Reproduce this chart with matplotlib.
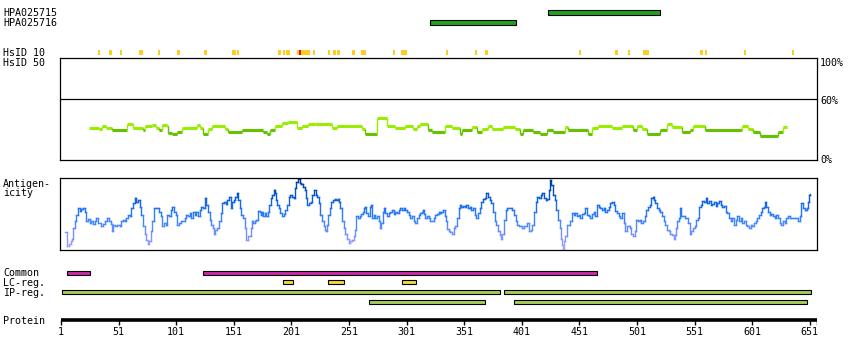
import numpy as np
import matplotlib
matplotlib.use("Agg")
import matplotlib.pyplot as plt
from matplotlib.collections import LineCollection
from matplotlib.colors import LinearSegmentedColormap

plt.rcParams['font.family'] = ['DejaVu Sans Mono']
FS = 7.2

# ---- data -------------------------------------------------------------
protein_len = 657
tick_res = [1, 51, 101, 151, 201, 251, 301, 351, 401, 451, 501, 551, 601, 651]

ab_names = ["HPA025715", "HPA025716"]
ab_start = [423.7, 321.3]
ab_end = [520.9, 396.0]

hsid_start = [32.9, 42.7, 52.2, 68.7, 84.9, 101.7, 125.1, 149.4, 153.5, 189.6, 193.7,
              196.3, 205.9, 219.8, 232.8, 237.1, 240.9, 253.6, 261.4, 289.5, 296.1,
              334.9, 360.4, 369.1, 450.7, 481.9, 492.9, 506.2, 555.7, 560.0, 593.6, 635.3]
hsid_end = [34.6, 45.0, 53.7, 72.2, 86.7, 104.3, 127.7, 152.6, 155.5, 192.0, 195.7,
            199.8, 217.4, 221.5, 234.5, 239.5, 243.2, 256.0, 265.5, 291.2, 301.1,
            336.7, 362.2, 371.7, 452.4, 484.5, 494.6, 511.4, 558.3, 561.8, 595.4, 637.0]
hsid_red_start = [207.6]
hsid_red_end = [209.3]

# identity (%), step segments: start residue and value
ident_start = [25.6, 34.3, 36.3, 40.1, 45.0, 58.6, 63.2, 71.9, 73.9, 79.7, 83.5, 86.4,
               88.4, 92.7, 94.2, 97.1, 101.4, 105.8, 118.8, 121.7, 124.6, 128.9, 131.8,
               143.4, 146.3, 157.9, 176.7, 179.6, 182.5, 186.8, 192.6, 198.4, 205.6,
               209.9, 215.8, 221.5, 236.0, 240.3, 262.0, 264.9, 275.1, 283.8, 291.0,
               299.7, 306.9, 309.8, 312.7, 319.9, 322.8, 334.3, 340.1, 347.4, 348.8,
               357.5, 361.8, 366.2, 372.0, 374.9, 385.0, 395.1, 399.5, 402.3, 411.0,
               416.8, 422.6, 428.4, 438.5, 441.4, 458.8, 461.7, 467.5, 479.0, 487.7,
               497.8, 500.7, 505.1, 509.4, 521.0, 526.8, 531.1, 539.8, 547.0, 549.9,
               560.1, 591.9, 597.7, 602.0, 607.8, 623.7, 628.1]
ident_val = [31.7, 30.7, 33.7, 32.0, 29.4, 35.3, 32.0, 29.4, 33.3, 35.0, 32.0, 29.4,
             34.6, 34.0, 26.5, 25.5, 27.5, 31.7, 35.0, 31.4, 25.5, 30.7, 33.7,
             30.7, 27.5, 29.4, 27.5, 26.1, 29.7, 33.3, 36.3, 37.3, 32.0,
             34.0, 35.3, 35.3, 32.0, 33.7, 30.7, 25.5, 41.8, 33.3, 31.4,
             33.3, 30.7, 34.0, 35.6, 29.7, 27.5, 33.7, 32.0, 26.1, 29.7,
             32.4, 28.1, 30.7, 33.7, 30.7, 32.4, 30.7, 26.1, 29.7, 28.1,
             26.1, 29.4, 28.1, 33.0, 29.7, 26.1, 32.0, 34.0, 31.4, 33.7,
             29.7, 34.0, 30.7, 25.8, 29.7, 35.6, 32.7, 28.1, 29.7, 33.3,
             29.7, 33.7, 30.7, 28.1, 23.9, 27.5, 32.7]
ident_end = 631.0

# antigenicity (relative score 0-100)
ag_res = [4.8, 6.2, 7.7, 9.4, 10.6, 11.4, 12.9, 14.3, 15.8, 17.2, 18.7, 20.1, 21.6, 23.0,
          24.4, 25.9, 27.3, 28.8, 30.2, 31.7, 33.1, 35.4, 37.5, 38.9, 40.9, 42.4, 44.1,
          45.6, 46.4, 48.2, 49.9, 51.9, 53.4, 54.8, 56.3, 57.7, 59.2, 60.6, 62.1, 63.5,
          65.0, 66.4, 67.9, 69.3, 70.8, 72.2, 73.6, 75.1, 76.5, 77.4, 78.9, 80.3, 81.7,
          83.2, 84.6, 86.1, 87.5, 89.0, 90.4, 91.9, 93.3, 94.8, 96.2, 97.7, 99.1, 100.6,
          102.0, 103.5, 104.9, 106.9, 108.4, 109.8, 111.3, 112.7, 114.2, 115.6, 117.1,
          118.5, 119.9, 121.4, 122.8, 124.3, 125.7, 127.2, 128.6, 130.1, 131.5, 133.0,
          133.8, 135.0, 136.7, 138.2, 139.6, 141.1, 142.5, 144.0, 145.4, 146.9, 148.3,
          149.5, 150.9, 152.4, 153.8, 154.7, 156.1, 157.6, 159.0, 160.5, 161.9, 163.4,
          164.8,
          165.6, 166.8, 167.7, 169.1, 170.6, 172.0, 173.5, 174.3, 175.5, 176.4, 177.8,
          179.2, 180.7, 181.6, 183.0, 184.5, 185.9, 187.1, 187.9, 188.8, 190.0, 191.4,
          192.9, 194.3, 195.7, 197.2, 198.6, 200.1, 201.5, 203.0, 204.4, 205.3, 206.7,
          208.2, 209.6, 211.1, 212.5, 213.4, 214.8, 216.3, 217.7, 219.2, 220.6, 222.1,
          223.5, 225.0, 226.1, 227.6, 229.0, 229.9, 230.8, 231.6, 232.8, 234.2, 235.7,
          237.1, 238.6, 240.0, 241.5, 242.3, 243.5, 244.9, 246.4, 247.8, 249.3, 250.7,
          252.2, 253.6, 255.1, 256.5, 257.4, 258.8, 260.3, 261.7, 263.2, 264.0, 265.2,
          266.1, 267.5, 269.0, 269.8, 271.0, 272.4, 273.9, 275.3, 276.8, 277.9, 279.1,
          280.5, 281.4, 282.6, 284.0, 285.5, 286.9, 288.4, 289.8, 291.2, 292.7, 294.1,
          295.6, 297.0, 298.5, 299.9, 301.4, 302.8, 304.3, 305.7, 307.2, 308.6, 310.1,
          311.5, 312.9, 314.4, 315.3, 316.1, 317.3, 318.7, 320.2, 321.6, 323.1, 324.5,
          326.0, 327.4, 328.9, 329.7,
          331.2, 332.6, 334.1, 335.5, 336.4, 337.5, 339.0, 340.4, 341.9, 343.3,
          344.8, 346.2, 347.1, 348.5, 350.0, 351.4, 352.9, 354.3, 355.8, 357.2,
          358.6, 360.1, 361.5, 363.0, 364.4, 365.9, 367.3, 368.8, 370.2, 371.7,
          373.1, 374.6, 376.0, 377.5, 378.9, 380.4, 381.8, 383.2, 384.1, 385.6,
          387.0, 388.5, 389.9, 391.4, 392.8, 394.2, 395.7, 397.1, 398.6, 400.0,
          401.5, 402.9, 404.4, 405.8, 407.3, 408.7, 410.2, 411.6, 413.1, 414.5,
          416.0, 417.4, 418.8, 420.3, 421.7, 423.2, 424.6, 425.5, 426.7, 428.1,
          429.6, 431.0, 432.4, 433.9, 435.3, 436.2, 436.8, 437.6, 438.8, 440.3,
          441.7, 443.2, 444.6, 446.0, 447.5, 448.9, 450.4, 451.8, 453.3, 454.7,
          456.2, 457.6, 459.1, 460.5, 462.0, 463.4, 464.9, 466.3, 467.8, 469.2,
          470.6, 472.1, 473.5, 475.0, 476.4, 477.9, 479.3, 480.8, 482.2, 483.7,
          485.1, 486.6, 488.0, 489.5, 490.9, 492.4, 493.8, 494.7,
          496.1, 497.5, 499.0, 500.4, 501.9, 503.3, 504.8, 506.2, 507.7, 509.1,
          510.6, 512.0, 513.5, 514.9, 515.8, 516.9, 518.4, 519.8, 521.3, 522.7,
          524.2, 525.6, 527.1, 528.5, 529.9, 531.4, 532.8, 533.7, 535.2, 536.0,
          537.2, 538.6, 539.5, 540.9, 542.4, 543.8, 545.3, 546.7, 548.2, 549.6,
          551.1, 552.5, 554.0, 554.8, 556.3, 557.7, 559.2, 560.6, 562.1, 563.5,
          565.0, 566.4, 567.9, 569.3, 570.8, 572.2, 573.6, 575.1, 576.5, 578.0,
          579.4, 580.9, 582.3, 583.8, 585.2, 586.7, 588.1, 589.6, 591.0, 592.5,
          593.9, 595.4, 596.8, 598.2, 599.7, 601.1, 602.6, 604.0, 605.5, 606.9,
          608.4, 609.8, 611.3, 612.4, 613.3, 614.7, 616.2, 617.6, 619.1, 620.5,
          622.0, 623.4, 624.9, 626.3, 627.8, 629.2, 630.7, 632.1, 633.6, 635.0,
          636.4, 637.9, 639.3, 640.8, 642.2, 643.7, 645.1, 646.6, 648.0, 648.9,
          649.8, 650.6, 650.9]
ag_val = [25, 6, 9, 12, 16, 30, 40, 49, 58, 54, 57, 58, 53, 40, 43, 37, 40, 36, 40, 45,
          37, 34, 36, 40, 44, 40, 36, 26, 35, 33, 35, 33, 40, 42, 40, 45, 49, 47, 58, 65,
          73, 67, 70, 60, 49, 33, 23, 14, 8, 12, 26, 40, 58, 58, 59, 53, 47, 33, 37, 35,
          49, 47, 56, 60, 53, 49, 35, 37, 40, 40, 44, 49, 47, 51, 44, 53, 49, 53, 48, 56,
          60, 58, 72, 63, 53, 42, 35, 30, 23, 28, 30, 40, 51, 65, 67, 64, 70, 74, 58, 67,
          70, 74, 79, 70, 58, 49, 44, 30, 14, 19, 19,
          30, 40, 37, 40, 42, 54, 53, 49, 53, 47, 51, 47, 53, 63, 72, 77, 84, 79, 70, 63,
          58, 51, 47, 50, 56, 63, 74, 77, 74, 72, 86, 95, 99, 93, 92, 88, 84, 72, 63, 65,
          67, 77, 84, 77, 74, 65, 49, 40, 33, 28, 26, 35, 49, 58, 67, 70, 71, 70, 71, 67,
          58, 40, 30, 23, 16, 10, 12, 14, 19, 28, 47, 44, 47, 50, 53, 58, 60, 51, 47, 60,
          63, 44, 49, 44, 47, 40, 31, 37, 53, 59, 51, 47, 51, 53, 56, 50, 53, 51, 56, 58,
          56, 59, 56, 53, 49, 44, 47, 40, 37, 44, 49, 51, 53, 56, 50, 45, 47, 44, 40, 40,
          44, 49, 50, 53, 51,
          53, 56, 47, 40, 29, 27, 25, 22, 30, 33, 44, 58, 63, 60, 62, 60, 63, 58, 60, 56,
          58, 49, 44, 51, 58, 67, 71, 73, 79, 74, 70, 65, 53, 40, 35, 26, 21, 16, 23, 42,
          56, 59, 58, 58, 56, 49, 40, 35, 33, 33, 30, 34, 33, 37, 26, 28, 35, 53, 67, 74,
          72, 77, 79, 72, 70, 71, 84, 98, 91, 77, 70, 56, 42, 30, 16, 7, 1, 12, 19, 35,
          35, 40, 51, 49, 51, 47, 49, 45, 50, 51, 58, 49, 47, 44, 50, 53, 47, 63, 60, 58,
          56, 58, 53, 56, 60, 65, 67, 63, 54, 51, 47, 44, 51, 37, 26, 33, 33, 30,
          23, 19, 26, 42, 40, 42, 37, 40, 47, 56, 60, 63, 72, 74, 70, 65, 58, 56, 53, 47,
          40, 35, 28, 26, 23, 21, 16, 21, 30, 40, 44, 58, 47, 47, 44, 44, 37, 23, 26, 30,
          33, 42, 44, 60, 63, 68, 67, 72, 65, 68, 63, 64, 67, 62, 65, 68, 63, 60, 62, 53,
          51, 44, 40, 44, 35, 42, 47, 40, 44, 37, 40, 35, 33, 31, 35, 33, 37, 40, 44, 49,
          53, 58, 60, 67, 60, 53, 49, 50, 47, 44, 49, 44, 37, 35, 40, 37, 44, 47, 44, 44,
          45, 44, 44, 40, 47, 65, 58, 56, 56, 58, 67, 77, 78]

common_start = [5.9, 124.5]
common_end = [26.4, 466.0]
lc_start = [194.0, 233.0, 297.3]
lc_end = [202.1, 246.4, 308.9]
ip1_start = [2.1, 385.8]
ip1_end = [381.8, 651.8]
ip2_start = [268.6, 394.5]
ip2_end = [368.8, 648.3]

# ---- layout -------------------------------------------------------------
W, H = 850, 360
X0, X1 = 60, 817
RES_LEFT, RES_RIGHT = 0.13, 657.3

fig = plt.figure(figsize=(W / 100, H / 100), dpi=100)


def px_axes(left, top, right, bottom):
    return fig.add_axes([left / W, 1 - bottom / H, (right - left) / W, (bottom - top) / H])


def label(x, y, s, **kw):
    fig.text(x / W, 1 - y / H, s, fontsize=FS, va="baseline", **kw)


# tracks (antibodies, HsID, features, protein axis)
track = px_axes(X0, 0, X1, H)
track.set_xlim(RES_LEFT, RES_RIGHT)
track.set_ylim(H, 0)
track.axis("off")

ab_y = [12.5, 22.5]
track.barh(ab_y, np.subtract(ab_end, ab_start), left=ab_start, height=4.4,
           color="#1fa31f", edgecolor="black", linewidth=0.8)

track.barh(52.5, np.subtract(hsid_end, hsid_start), left=hsid_start, height=5,
           color="#ffcc22", linewidth=0)
track.barh(52.5, np.subtract(hsid_red_end, hsid_red_start), left=hsid_red_start,
           height=5, color="#ee1100", linewidth=0)

bar_kw = dict(height=4.2, edgecolor="black", linewidth=0.8)
track.barh(272.7, np.subtract(common_end, common_start), left=common_start,
           color="#cc2aa8", **bar_kw)
track.barh(282.4, np.subtract(lc_end, lc_start), left=lc_start, color="#f0dc3c", **bar_kw)
track.barh(292.4, np.subtract(ip1_end, ip1_start), left=ip1_start, color="#a8cc5a", **bar_kw)
track.barh(302.4, np.subtract(ip2_end, ip2_start), left=ip2_start, color="#a8cc5a", **bar_kw)

# protein ruler
track.plot([1, protein_len], [320, 320], color="black", lw=2.6, solid_capstyle="butt")
track.vlines(tick_res + [protein_len], 320, 325, color="black", lw=1.0)
for t in tick_res:
    track.text(t, 335, str(t), ha="center", va="baseline", fontsize=FS)

# identity panel
ax_id = px_axes(X0, 58.3, X1, 160.3)
ax_id.set_xlim(RES_LEFT, RES_RIGHT)
ax_id.set_ylim(0, 100)
ax_id.set_xticks([])
ax_id.set_yticks([])
for sp in ax_id.spines.values():
    sp.set_linewidth(0.9)
ax_id.axhline(60, color="black", lw=0.9)
edges = ident_start + [ident_end]
light, dark = "#99ee00", "#66c200"
cols = [light if v > 30.5 else dark for v in ident_val]
ax_id.hlines(ident_val, edges[:-1], edges[1:], colors=cols, lw=2.2)
ax_id.vlines(edges[1:-1], ident_val[:-1], ident_val[1:], colors=cols[1:], lw=1.0)

# antigenicity panel (stair-stepped like the per-residue trace)
ax_ag = px_axes(X0, 178.3, X1, 250)
ax_ag.set_xlim(RES_LEFT, RES_RIGHT)
ax_ag.set_ylim(0, 100)
ax_ag.set_xticks([])
ax_ag.set_yticks([])
for sp in ax_ag.spines.values():
    sp.set_linewidth(0.9)
cmap = LinearSegmentedColormap.from_list(
    "ag", ["#b0a6ff", "#7f92ff", "#3f86ff", "#1a6ff2", "#0052c4", "#003a96"])
r = np.array(ag_res)
v = np.array(ag_val, dtype=float)
segs, seg_v = [], []
for i in range(len(r) - 1):
    segs.append([(r[i], v[i]), (r[i + 1], v[i])])
    seg_v.append(v[i])
    segs.append([(r[i + 1], v[i]), (r[i + 1], v[i + 1])])
    seg_v.append((v[i] + v[i + 1]) / 2)
lc = LineCollection(segs, colors=cmap(np.array(seg_v) / 100), linewidths=1.0,
                    capstyle="projecting")
ax_ag.add_collection(lc)

# labels
label(3, 16.5, ab_names[0])
label(3, 26.5, ab_names[1])
label(3, 56, "HsID 10")
label(3, 66, "HsID 50")
label(820, 65.5, "100%")
label(820, 104, "60%")
label(820, 163.5, "0%")
label(3, 186.5, "Antigen-")
label(3, 196, "icity")
label(3, 276.5, "Common")
label(3, 286, "LC-reg.")
label(3, 296, "IP-reg.")
label(3, 323.5, "Protein")

fig.savefig("out.png", dpi=100)
